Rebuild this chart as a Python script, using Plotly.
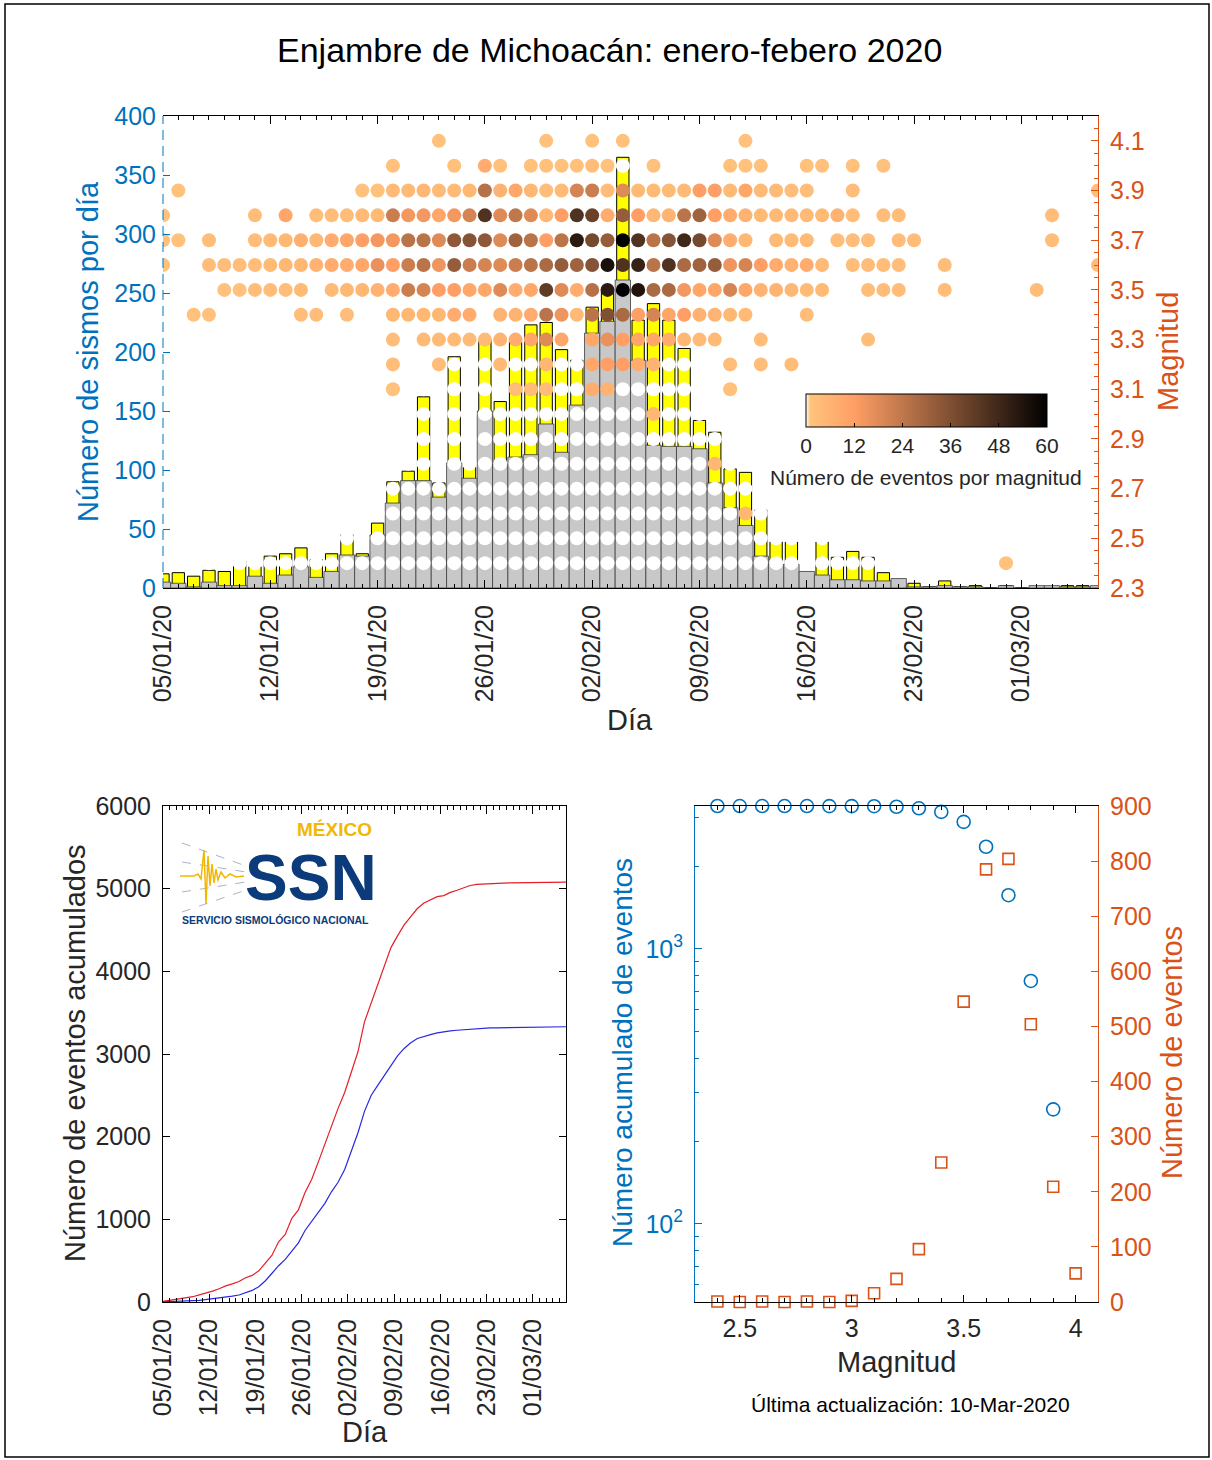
import numpy as np
import pandas as pd
import plotly.graph_objects as go

W, H = 1212, 1460
def px(x): return x / W
def py(y): return 1 - y / H

BLUE = '#0072BD'
ORANGE = '#D95319'
TXT = '#262626'
FONT = 'Liberation Sans, Arial, Helvetica, sans-serif'
DAY_MS = 86400000

# ---------------- data: daily counts (05/01/2020 .. 06/03/2020) ----------------
days = pd.date_range('2020-01-05', '2020-03-06', freq='D')  # 62 days

total_per_day = [12, 13, 10, 15, 14, 23, 18, 27, 29, 34,
                 24, 29, 45, 29, 55, 90, 99, 162, 89, 196,
                 102, 210, 158, 209, 223, 225, 202, 193, 238, 251,
                 365, 227, 241, 227, 203, 142, 132, 101, 98, 66,
                 39, 39, 12, 39, 26, 31, 26, 13, 6, 4,
                 1, 6, 1, 2, 0, 2, 0, 1, 1, 2,
                 2, 1]
gray_per_day = [5, 4, 1, 5, 2, 2, 10, 4, 11, 18,
                9, 14, 28, 27, 45, 72, 91, 91, 77, 106,
                93, 150, 105, 111, 113, 139, 115, 155, 216, 226,
                261, 193, 121, 120, 120, 118, 89, 68, 53, 27,
                20, 20, 14, 11, 7, 7, 6, 6, 8, 1,
                1, 2, 1, 1, 0, 2, 0, 2, 2, 1,
                1, 2]

# events per day (index into days) for each magnitude bin
ev_41 = {18: 2, 25: 2, 28: 2, 30: 2, 38: 2}
ev_40 = {15: 2, 19: 2, 21: 8, 22: 2, 24: 2, 25: 2, 26: 2, 27: 2, 28: 3, 29: 2,
         32: 2, 37: 2, 38: 2, 39: 2, 42: 2, 43: 2, 45: 2, 47: 2}
ev_39 = {1: 2, 13: 2, 14: 2, 15: 4, 16: 4, 17: 5, 18: 4, 19: 4, 20: 5, 21: 26,
         22: 6, 23: 10, 24: 5, 25: 3, 26: 4, 27: 20, 28: 22, 29: 3, 30: 18, 31: 4,
         32: 4, 33: 4, 34: 4, 35: 12, 36: 12, 37: 4, 38: 10, 39: 4, 40: 4, 41: 3,
         42: 3, 45: 3, 61: 3}
ev_38 = {0: 2, 6: 3, 8: 10, 10: 3, 11: 3, 12: 3, 13: 4, 14: 4, 15: 22, 16: 14,
         17: 14, 18: 10, 19: 14, 20: 20, 21: 45, 22: 18, 23: 24, 24: 18, 25: 5, 26: 12,
         27: 45, 28: 40, 29: 8, 30: 32, 31: 12, 32: 5, 33: 6, 34: 25, 35: 30, 36: 12,
         37: 8, 38: 6, 39: 4, 40: 4, 41: 4, 42: 4, 43: 4, 44: 6, 45: 3, 47: 3,
         48: 3, 58: 3}
ev_37 = {0: 2, 1: 2, 3: 3, 6: 3, 7: 4, 8: 5, 9: 7, 10: 5, 11: 8, 12: 10,
         13: 12, 14: 14, 15: 14, 16: 25, 17: 25, 18: 18, 19: 33, 20: 35, 21: 33, 22: 18,
         23: 30, 24: 25, 25: 12, 26: 25, 27: 52, 28: 38, 29: 32, 30: 60, 31: 45, 32: 25,
         33: 35, 34: 48, 35: 38, 36: 18, 37: 8, 38: 5, 40: 4, 41: 4, 42: 4, 44: 3,
         45: 3, 46: 3, 48: 3, 49: 3, 58: 3}
ev_36 = {0: 2, 3: 3, 4: 3, 5: 3, 6: 3, 7: 4, 8: 5, 9: 5, 10: 6, 11: 8,
         12: 8, 13: 10, 14: 16, 15: 12, 16: 22, 17: 25, 18: 15, 19: 32, 20: 22, 21: 20,
         22: 18, 23: 22, 24: 25, 25: 28, 26: 32, 27: 30, 28: 35, 29: 55, 30: 45, 31: 50,
         32: 25, 33: 45, 34: 28, 35: 30, 36: 32, 37: 15, 38: 20, 39: 12, 40: 8, 41: 6,
         42: 8, 43: 4, 45: 3, 46: 3, 47: 3, 48: 3, 51: 3, 61: 3}
ev_35 = {4: 2, 5: 2, 6: 3, 7: 3, 8: 3, 9: 4, 11: 4, 12: 5, 13: 5, 14: 6,
         15: 8, 16: 22, 17: 20, 18: 12, 19: 12, 20: 10, 21: 10, 22: 18, 23: 8, 24: 10,
         25: 42, 26: 18, 27: 8, 28: 26, 29: 52, 30: 60, 31: 54, 32: 28, 33: 28, 34: 14,
         35: 10, 36: 10, 37: 20, 38: 10, 39: 6, 40: 6, 41: 5, 42: 4, 43: 4, 46: 3,
         47: 3, 48: 3, 51: 3, 57: 3}
ev_34 = {2: 2, 3: 2, 9: 3, 10: 3, 12: 3, 15: 5, 16: 5, 17: 5, 18: 5, 19: 8,
         20: 8, 22: 6, 23: 6, 24: 8, 25: 25, 26: 15, 27: 4, 28: 25, 29: 36, 30: 28,
         31: 12, 32: 20, 33: 10, 34: 12, 35: 6, 36: 6, 37: 5, 38: 4, 42: 3}
ev_33 = {15: 3, 17: 4, 18: 4, 19: 4, 20: 4, 21: 4, 22: 6, 23: 8, 24: 10, 25: 18,
         26: 10, 28: 10, 29: 16, 30: 12, 31: 10, 32: 10, 33: 8, 34: 5, 35: 4, 36: 4,
         39: 3, 46: 3}
ev_32 = {15: 3, 18: 3, 22: 4, 25: 5, 28: 10, 29: 12, 30: 12, 31: 8, 32: 6, 37: 3,
         39: 3, 41: 3}
ev_31 = {15: 2, 23: 3, 24: 3, 25: 3, 28: 8, 29: 6, 37: 2}
ev_30 = {32: 5}
ev_29 = {}
ev_28 = {36: 5}
ev_27 = {}
ev_26 = {38: 5}
ev_25 = {}
ev_24 = {55: 2}

mag_rows = [4.1, 4.0, 3.9, 3.8, 3.7, 3.6, 3.5, 3.4, 3.3, 3.2, 3.1, 3.0, 2.9, 2.8, 2.7, 2.6, 2.5, 2.4]
row_events = [ev_41, ev_40, ev_39, ev_38, ev_37, ev_36, ev_35, ev_34, ev_33, ev_32,
              ev_31, ev_30, ev_29, ev_28, ev_27, ev_26, ev_25, ev_24]

# magnitude distribution (bottom right)
mag_bins = [2.4, 2.5, 2.6, 2.7, 2.8, 2.9, 3.0, 3.1, 3.2, 3.3, 3.4, 3.5, 3.6, 3.7, 3.8, 3.9, 4.0]
events_per_mag = [1, 0, 1, 0, 1, 0, 2, 16, 42, 96, 253, 545, 785, 804, 504, 209, 52]
cum_events = [3311, 3310, 3310, 3309, 3309, 3308, 3308, 3306, 3290, 3248, 3152, 2899,
              2354, 1569, 765, 261, 52]

# ---------------- build ----------------
gx, gy, gc = [], [], []
for mag, ev in zip(mag_rows, row_events):
    for i, d in enumerate(days):
        gx.append(d)
        gy.append(mag)
        gc.append(ev.get(i, 0))

copper_r = [[0.0, 'rgb(255,255,255)'], [1 / 60, 'rgb(255,196,125)'],
            [0.2, 'rgb(255,159,101)'], [1.0, 'rgb(0,0,0)']]

fig = go.Figure()

fig.add_trace(go.Bar(x=days, y=total_per_day, width=0.8 * DAY_MS, opacity=1,
                     marker=dict(color='#FFFF00', line=dict(color='black', width=1)),
                     xaxis='x', yaxis='y'))
fig.add_trace(go.Bar(x=days, y=gray_per_day, width=DAY_MS, opacity=1,
                     marker=dict(color='rgb(200,200,200)', line=dict(color='rgb(60,60,60)', width=0.8)),
                     xaxis='x', yaxis='y'))
fig.add_trace(go.Scatter(
    x=gx, y=gy, mode='markers', xaxis='x', yaxis='y2',
    marker=dict(size=14, color=gc, colorscale=copper_r, cmin=0, cmax=60,
                line=dict(width=0),
                colorbar=dict(orientation='h', x=px(806), xanchor='left',
                              y=py(394), yanchor='top', len=241, lenmode='pixels',
                              thickness=33, thicknessmode='pixels', xpad=0, ypad=0,
                              outlinecolor='black', outlinewidth=1,
                              tickmode='array', tickvals=[0, 12, 24, 36, 48, 60],
                              ticks='inside', ticklen=4, tickcolor='black',
                              tickfont=dict(size=21, color=TXT, family=FONT)))))

# cumulative curves (bottom left)
cum_x = [days[0] - pd.Timedelta(hours=12)] + [d + pd.Timedelta(hours=12) for d in days]
cum_total = [0] + list(np.cumsum(total_per_day))
cum_gray = [0] + list(np.cumsum(gray_per_day))
fig.add_trace(go.Scatter(x=cum_x, y=cum_total, mode='lines', line=dict(color='rgb(230,30,40)', width=1.2),
                         xaxis='x2', yaxis='y3'))
fig.add_trace(go.Scatter(x=cum_x, y=cum_gray, mode='lines', line=dict(color='rgb(40,40,225)', width=1.2),
                         xaxis='x2', yaxis='y3'))

# magnitude distribution (bottom right)
fig.add_trace(go.Scatter(x=mag_bins, y=cum_events, mode='markers', cliponaxis=False,
                         marker=dict(symbol='circle-open', size=13, color=BLUE, line=dict(width=1.6, color=BLUE)),
                         xaxis='x3', yaxis='y4'))
fig.add_trace(go.Scatter(x=mag_bins, y=events_per_mag, mode='markers', cliponaxis=False,
                         marker=dict(symbol='square-open', size=11, color=ORANGE, line=dict(width=1.6, color=ORANGE)),
                         xaxis='x3', yaxis='y5'))

tickf = dict(size=25, color=TXT, family=FONT)
base_ax = dict(showgrid=False, zeroline=False, automargin=False)

date_ax = dict(base_ax, type='date', range=['2020-01-05', '2020-03-06'], tickmode='linear',
               tick0='2020-01-05', dtick=7 * DAY_MS, tickformat='%d/%m/%y', tickangle=-90,
               ticks='inside', ticklen=8, tickcolor='black', showline=True, linecolor='black',
               linewidth=1, mirror='ticks', tickfont=tickf, ticklabelstandoff=6,
               minor=dict(tick0='2020-01-05', dtick=DAY_MS, ticks='inside', ticklen=4, tickcolor='black'))

mag_vals = [round(2.3 + 0.2 * i, 1) for i in range(10)]
mag_text = ['%.1f' % v for v in mag_vals]

fig.update_layout(
    width=W, height=H, autosize=False, template='none',
    margin=dict(l=0, r=0, t=0, b=0, pad=0),
    paper_bgcolor='white', plot_bgcolor='white', showlegend=False,
    barmode='overlay', font=dict(family=FONT, color=TXT),
    xaxis=dict(date_ax, domain=[px(163), px(1098)], anchor='y'),
    yaxis=dict(base_ax, domain=[py(588), py(116)], anchor='x', range=[0, 400], dtick=50,
               ticks='inside', ticklen=7, tickcolor=BLUE, showline=False,
               tickfont=dict(size=25, color=BLUE, family=FONT), ticklabelstandoff=6),
    yaxis2=dict(base_ax, overlaying='y', side='right', anchor='x', range=[2.3, 4.2],
                tickmode='array', tickvals=mag_vals, ticktext=mag_text,
                ticks='inside', ticklen=7, tickcolor=ORANGE, showline=True, linecolor=ORANGE,
                tickfont=dict(size=25, color=ORANGE, family=FONT), ticklabelstandoff=6,
                minor=dict(tickvals=[round(2.35 + 0.05 * i, 2) for i in range(37)],
                           ticks='inside', ticklen=4, tickcolor=ORANGE)),
    xaxis2=dict(date_ax, domain=[px(163), px(566)], anchor='y3'),
    yaxis3=dict(base_ax, domain=[py(1302), py(806)], anchor='x2', range=[0, 6000], dtick=1000,
                ticks='inside', ticklen=7, tickcolor='black', showline=True, linecolor='black',
                mirror='ticks', tickfont=tickf, ticklabelstandoff=6),
    xaxis3=dict(base_ax, domain=[px(695), px(1098)], anchor='y4', range=[2.3, 4.1],
                tickmode='array', tickvals=[2.5, 3, 3.5, 4], ticktext=['2.5', '3', '3.5', '4'],
                ticks='inside', ticklen=7, tickcolor='black', showline=True, linecolor='black',
                mirror='ticks', tickfont=tickf, ticklabelstandoff=4,
                minor=dict(tickvals=[round(2.4 + 0.1 * i, 1) for i in range(17)],
                           ticks='inside', ticklen=4, tickcolor='black')),
    yaxis4=dict(base_ax, domain=[py(1302), py(806)], anchor='x3', type='log',
                range=[np.log10(52), np.log10(3311)], tickmode='array', tickvals=[100, 1000],
                ticktext=['10<sup>2</sup>', '10<sup>3</sup>'], ticks='inside', ticklen=7,
                tickcolor=BLUE, showline=True, linecolor=BLUE,
                tickfont=dict(size=25, color=BLUE, family=FONT), ticklabelstandoff=6,
                minor=dict(tickvals=[60, 70, 80, 90, 200, 300, 400, 500, 600, 700, 800, 900, 2000, 3000],
                           ticks='inside', ticklen=4, tickcolor=BLUE)),
    yaxis5=dict(base_ax, overlaying='y4', side='right', anchor='x3', range=[0, 900], dtick=100,
                ticks='inside', ticklen=7, tickcolor=ORANGE, showline=True, linecolor=ORANGE,
                tickfont=dict(size=25, color=ORANGE, family=FONT), ticklabelstandoff=6),
)

def ann(text, x, y, size, color=TXT, angle=0, xanchor='center', yanchor='middle', family=FONT):
    return dict(text=text, x=px(x), y=py(y), xref='paper', yref='paper', showarrow=False,
                textangle=angle, xanchor=xanchor, yanchor=yanchor,
                font=dict(size=size, color=color, family=family))

annotations = [
    ann('Enjambre de Michoacán: enero-febero 2020', 609, 50, 34, color='black'),
    ann('Número de sismos por día', 88, 352, 29, color=BLUE, angle=-90),
    ann('Magnitud', 1168, 352, 29, color=ORANGE, angle=-90),
    ann('Día', 630, 720, 29),
    ann('Número de eventos por magnitud', 926, 478, 21),
    ann('Número de eventos acumulados', 75, 1053, 29, angle=-90),
    ann('Día', 365, 1432, 29),
    ann('Número acumulado de eventos', 622, 1053, 28, color=BLUE, angle=-90),
    ann('Número de eventos', 1172, 1053, 29, color=ORANGE, angle=-90),
    ann('Magnitud', 896, 1362, 29),
    ann('Última actualización: 10-Mar-2020', 910, 1404, 21, color='black'),
    # SSN logo
    ann('<b>MÉXICO</b>', 374, 829, 19, color='#F2B705', xanchor='right'),
    ann('<b>SSN</b>', 311, 878, 64, color='#0B3B7A'),
    ann('<b>SERVICIO SISMOLÓGICO NACIONAL</b>', 180, 920, 10.5, color='#0B3B7A', xanchor='left'),
]

def path(points):
    return 'M' + ' L'.join('%.5f,%.5f' % (px(a), py(b)) for a, b in points)

seismo = [(180, 876), (194, 876), (198, 874), (201, 879), (204, 850), (206, 904), (208, 856),
          (210, 886), (212, 864), (214, 883), (216, 869), (218, 880), (221, 872), (225, 878),
          (230, 874), (236, 877), (244, 876)]
shapes = [
    dict(type='rect', xref='paper', yref='paper', x0=px(5), x1=px(1209), y0=py(1457), y1=py(4),
         line=dict(color='black', width=1.5), fillcolor='rgba(0,0,0,0)'),
    dict(type='line', xref='paper', yref='paper', x0=px(163), x1=px(163), y0=py(588), y1=py(116),
         line=dict(color=BLUE, width=1, dash='10px,6px')),
]
for (a, b, c, d) in [(182, 843, 246, 866), (182, 862, 246, 872), (182, 892, 246, 882), (182, 912, 246, 890)]:
    shapes.append(dict(type='line', xref='paper', yref='paper', x0=px(a), y0=py(b), x1=px(c), y1=py(d),
                       line=dict(color='rgb(170,180,200)', width=1, dash='dash')))
shapes.append(dict(type='path', xref='paper', yref='paper', path=path(seismo),
                   line=dict(color='#F2B705', width=1.5)))

fig.update_layout(annotations=annotations, shapes=shapes)

fig.write_html('out.html', config={'displayModeBar': False},
               post_script="document.body.style.margin='0';document.body.style.overflow='hidden';")
